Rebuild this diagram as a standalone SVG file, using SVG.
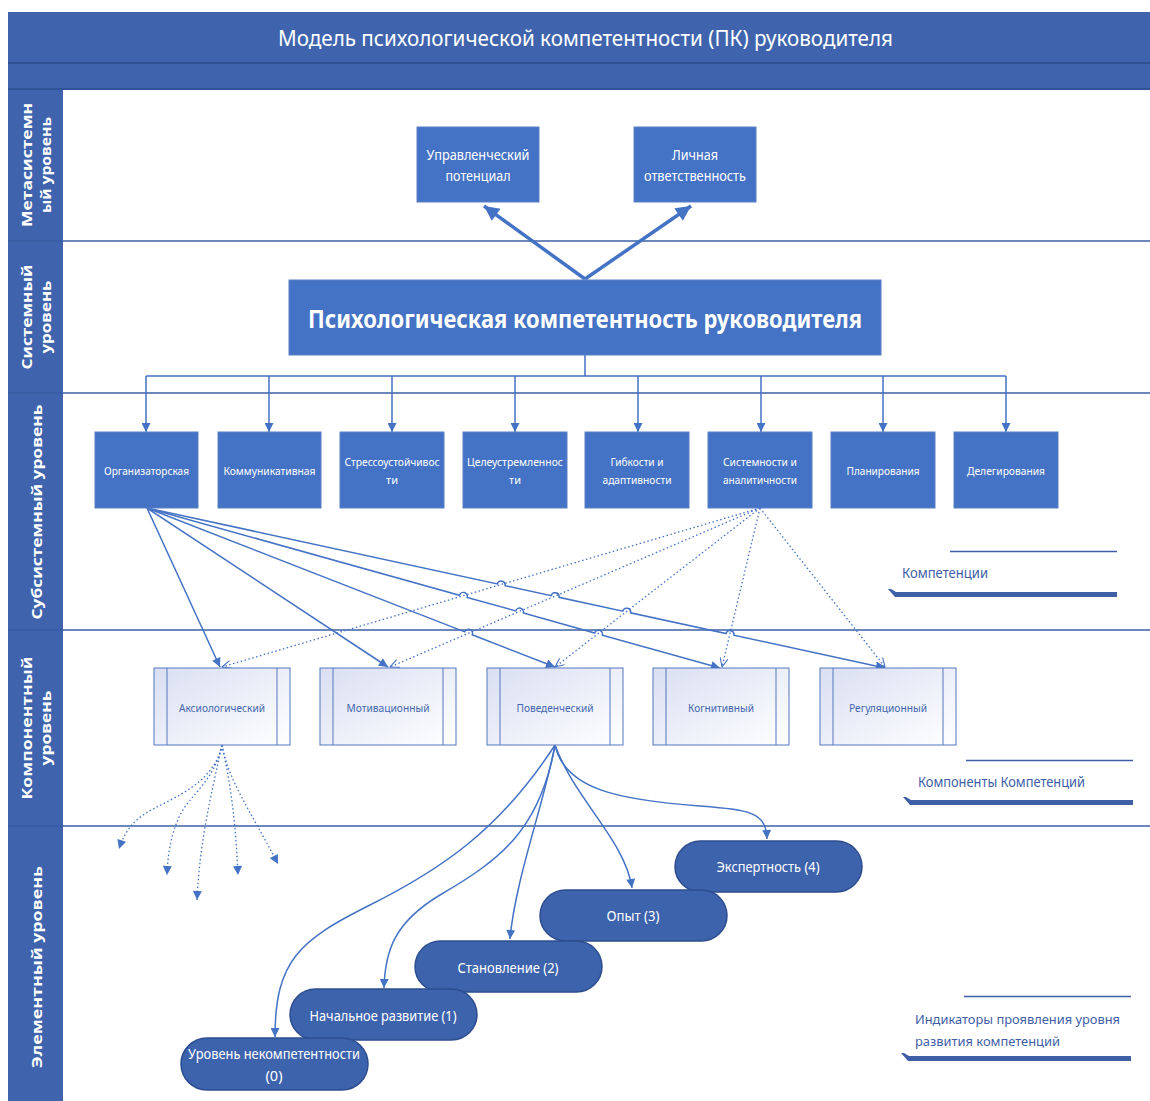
<svg xmlns="http://www.w3.org/2000/svg" width="1150" height="1101" viewBox="0 0 1150 1101">
<defs>
<style>
.lane{fill:#3f64ad}
.div{stroke:#3c5ea6;stroke-width:1.6}
.box{fill:#4472c4;stroke:#5b80c8;stroke-width:1}
.wt{fill:#fff;font-family:"Noto Sans","Open Sans",sans-serif;text-anchor:middle}
.lt{fill:#fff;font-family:"Open Sans","Noto Sans",sans-serif;font-weight:700;font-size:15px;text-anchor:middle}
.comp{fill:url(#cg);stroke:#5577c0;stroke-width:1}
.cl{stroke:#5577c0;stroke-width:1}
.ct{fill:#4466ae;font-family:"Noto Sans",sans-serif;font-size:11px;text-anchor:middle}
.el{fill:#3e63ad;stroke:#2d4d8f;stroke-width:1.5}
.ann{fill:#3e5ea6;font-family:"Noto Sans",sans-serif}
.ln{fill:none;stroke:#4472c4;stroke-width:1.5}
.thick{fill:none;stroke:#4472c4;stroke-width:3.5}
.dot{fill:none;stroke:#4472c4;stroke-width:1.3;stroke-dasharray:1.5 2.5}
.bar{fill:#3e5ea6}
.tl{stroke:#3e5ea6;stroke-width:1.3}
</style>
<linearGradient id="cg" x1="0" y1="0" x2="1" y2="1">
<stop offset="0" stop-color="#d9dff2"/>
<stop offset="1" stop-color="#ffffff"/>
</linearGradient>
<marker id="arr" viewBox="0 0 10 10" refX="10" refY="5" markerWidth="11" markerHeight="9" orient="auto" markerUnits="userSpaceOnUse">
<path d="M0,0 L10,5 L0,10 z" fill="#4472c4"/>
</marker>
<marker id="arrB" viewBox="0 0 10 10" refX="10" refY="5" markerWidth="16" markerHeight="15" orient="auto" markerUnits="userSpaceOnUse">
<path d="M0,0 L10,5 L0,10 z" fill="#4472c4"/>
</marker>
<marker id="arrO" viewBox="0 0 10 10" refX="10" refY="5" markerWidth="10" markerHeight="9" orient="auto" markerUnits="userSpaceOnUse">
<path d="M0,0.5 L10,5 L0,9.5" fill="none" stroke="#4472c4" stroke-width="1.2"/>
</marker>
</defs>

<!-- header -->
<g id="header">
<rect x="8" y="12" width="1142" height="78" class="lane"/>
<line x1="8" y1="63" x2="1150" y2="63" stroke="#2e4f92" stroke-width="2"/>
<line x1="8" y1="89" x2="1150" y2="89" stroke="#2e4f92" stroke-width="1.5"/>
<text x="585.5" y="46" class="wt" font-size="22" textLength="615" lengthAdjust="spacingAndGlyphs">Модель психологической компетентности (ПК) руководителя</text>
</g>

<!-- lanes -->
<g id="lanes">
<rect x="8" y="90" width="55" height="1011" class="lane"/>
<line x1="8" y1="241" x2="63" y2="241" stroke="#36589c" stroke-width="1"/>
<line x1="8" y1="393" x2="63" y2="393" stroke="#36589c" stroke-width="1"/>
<line x1="8" y1="630" x2="63" y2="630" stroke="#36589c" stroke-width="1"/>
<line x1="8" y1="826" x2="63" y2="826" stroke="#36589c" stroke-width="1"/>
<line x1="63" y1="241" x2="1150" y2="241" class="div"/>
<line x1="63" y1="393" x2="1150" y2="393" class="div"/>
<line x1="63" y1="630" x2="1150" y2="630" class="div"/>
<line x1="63" y1="826" x2="1150" y2="826" class="div"/>
<g id="lane-meta">
<text transform="translate(32,165) rotate(-90)" class="lt" textLength="124" lengthAdjust="spacingAndGlyphs">Метасистемн</text>
<text transform="translate(51,165) rotate(-90)" class="lt" textLength="96" lengthAdjust="spacingAndGlyphs">ый уровень</text>
</g>
<g id="lane-system">
<text transform="translate(32,317) rotate(-90)" class="lt" textLength="105" lengthAdjust="spacingAndGlyphs">Системный</text>
<text transform="translate(51,317) rotate(-90)" class="lt" textLength="73" lengthAdjust="spacingAndGlyphs">уровень</text>
</g>
<g id="lane-subsystem">
<text transform="translate(42,512) rotate(-90)" class="lt" textLength="215" lengthAdjust="spacingAndGlyphs">Субсистемный уровень</text>
</g>
<g id="lane-component">
<text transform="translate(32,728) rotate(-90)" class="lt" textLength="143" lengthAdjust="spacingAndGlyphs">Компонентный</text>
<text transform="translate(51,728) rotate(-90)" class="lt" textLength="75" lengthAdjust="spacingAndGlyphs">уровень</text>
</g>
<g id="lane-element">
<text transform="translate(42,967) rotate(-90)" class="lt" textLength="202" lengthAdjust="spacingAndGlyphs">Элементный уровень</text>
</g>
</g>

<!-- connectors -->
<g id="connectors">
<path d="M585,279 L484,206" class="thick" marker-end="url(#arrB)"/>
<path d="M585,279 L691,206" class="thick" marker-end="url(#arrB)"/>
<path d="M585,355 V376 M146,376 H1006" class="ln"/>
<path d="M146,376 V432" class="ln" marker-end="url(#arr)"/>
<path d="M269,376 V432" class="ln" marker-end="url(#arr)"/>
<path d="M392,376 V432" class="ln" marker-end="url(#arr)"/>
<path d="M515,376 V432" class="ln" marker-end="url(#arr)"/>
<path d="M638,376 V432" class="ln" marker-end="url(#arr)"/>
<path d="M761,376 V432" class="ln" marker-end="url(#arr)"/>
<path d="M883,376 V432" class="ln" marker-end="url(#arr)"/>
<path d="M1006,376 V432" class="ln" marker-end="url(#arr)"/>

<path d="M760,508 L222,667" class="dot" marker-end="url(#arrO)"/>
<path d="M760,508 L390,667" class="dot" marker-end="url(#arrO)"/>
<path d="M760,508 L555,667" class="dot" marker-end="url(#arrO)"/>
<path d="M760,508 L722,667" class="dot" marker-end="url(#arrO)"/>
<path d="M760,508 L885,667" class="dot" marker-end="url(#arrO)"/>

<path d="M147,508 L220,667" class="ln" marker-end="url(#arr)"/>
<path d="M147,508 L388,667" class="ln" marker-end="url(#arr)"/>
<path d="M147,508 L464.77,631.85 A4,4 0 0 1 472.23,634.75 L555,667" class="ln" marker-end="url(#arr)"/>
<path d="M147,508 L459.45,595.22 A4,4 0 0 1 467.15,597.38 L515.65,610.92 A4,4 0 0 1 523.35,613.08 L594.65,633.02 A4,4 0 0 1 602.35,635.18 L720,668" class="ln" marker-end="url(#arr)"/>
<path d="M147,508 L497.3,583.95 A4,4 0 0 1 505.1,585.65 L551.2,595.65 A4,4 0 0 1 559,597.35 L622.8,611.15 A4,4 0 0 1 630.6,612.85 L726.1,633.55 A4,4 0 0 1 733.9,635.25 L885,668" class="ln" marker-end="url(#arr)"/>

<path d="M222,745 C215,780 180,795 155,808 C135,818 125,830 119,849" class="dot" marker-end="url(#arr)"/>
<path d="M222,745 C215,780 190,795 180,815 C172,832 168,850 167,875" class="dot" marker-end="url(#arr)"/>
<path d="M222,745 C210,800 200,840 197,900" class="dot" marker-end="url(#arr)"/>
<path d="M222,745 C232,790 236,830 238,875" class="dot" marker-end="url(#arr)"/>
<path d="M222,745 C228,780 250,810 278,864" class="dot" marker-end="url(#arr)"/>

<path d="M555,745 C565,790 620,800 700,806 C750,810 766,812 767,839" class="ln" marker-end="url(#arr)"/>
<path d="M555,745 C575,800 625,840 632,888" class="ln" marker-end="url(#arr)"/>
<path d="M555,745 C545,800 515,880 510,939" class="ln" marker-end="url(#arr)"/>
<path d="M555,745 C540,830 500,860 440,895 C395,922 385,950 384,988" class="ln" marker-end="url(#arr)"/>
<path d="M555,745 C500,830 440,870 370,905 C300,940 275,960 275,1037" class="ln" marker-end="url(#arr)"/>
</g>

<!-- meta level -->
<g id="node-upr">
<rect x="417" y="127" width="122" height="75" class="box"/>
<text x="478" y="160" class="wt" font-size="14" textLength="103" lengthAdjust="spacingAndGlyphs">Управленческий</text>
<text x="478" y="181" class="wt" font-size="14" textLength="65" lengthAdjust="spacingAndGlyphs">потенциал</text>
</g>
<g id="node-otv">
<rect x="634" y="127" width="122" height="75" class="box"/>
<text x="695" y="160" class="wt" font-size="14" textLength="46" lengthAdjust="spacingAndGlyphs">Личная</text>
<text x="695" y="181" class="wt" font-size="14" textLength="102" lengthAdjust="spacingAndGlyphs">ответственность</text>
</g>

<!-- system level -->
<g id="node-pk">
<rect x="289" y="280" width="592" height="75" class="box"/>
<text x="585" y="328" class="wt" font-size="25" font-weight="700" textLength="554" lengthAdjust="spacingAndGlyphs">Психологическая компетентность руководителя</text>
</g>

<!-- subsystem level -->
<g id="node-org">
<rect x="95" y="432" width="103" height="76" class="box"/>
<text x="146.5" y="475" class="wt" font-size="11" textLength="85" lengthAdjust="spacingAndGlyphs">Организаторская</text>
</g>
<g id="node-kom">
<rect x="218" y="432" width="103" height="76" class="box"/>
<text x="269.5" y="475" class="wt" font-size="11" textLength="92" lengthAdjust="spacingAndGlyphs">Коммуникативная</text>
</g>
<g id="node-str">
<rect x="340" y="432" width="104" height="76" class="box"/>
<text x="392" y="466" class="wt" font-size="11" textLength="95" lengthAdjust="spacingAndGlyphs">Стрессоустойчивос</text>
<text x="392" y="484" class="wt" font-size="11">ти</text>
</g>
<g id="node-cel">
<rect x="463" y="432" width="104" height="76" class="box"/>
<text x="515" y="466" class="wt" font-size="11" textLength="96" lengthAdjust="spacingAndGlyphs">Целеустремленнос</text>
<text x="515" y="484" class="wt" font-size="11">ти</text>
</g>
<g id="node-gib">
<rect x="585" y="432" width="104" height="76" class="box"/>
<text x="637" y="466" class="wt" font-size="11" textLength="53" lengthAdjust="spacingAndGlyphs">Гибкости и</text>
<text x="637" y="484" class="wt" font-size="11" textLength="69" lengthAdjust="spacingAndGlyphs">адаптивности</text>
</g>
<g id="node-sys">
<rect x="708" y="432" width="104" height="76" class="box"/>
<text x="760" y="466" class="wt" font-size="11" textLength="74" lengthAdjust="spacingAndGlyphs">Системности и</text>
<text x="760" y="484" class="wt" font-size="11" textLength="74" lengthAdjust="spacingAndGlyphs">аналитичности</text>
</g>
<g id="node-plan">
<rect x="831" y="432" width="104" height="76" class="box"/>
<text x="883" y="475" class="wt" font-size="11" textLength="73" lengthAdjust="spacingAndGlyphs">Планирования</text>
</g>
<g id="node-del">
<rect x="954" y="432" width="104" height="76" class="box"/>
<text x="1006" y="475" class="wt" font-size="11" textLength="78" lengthAdjust="spacingAndGlyphs">Делегирования</text>
</g>

<!-- component level -->
<g id="node-aks">
<rect x="154" y="668" width="136" height="77" class="comp"/>
<line x1="167" y1="668" x2="167" y2="745" class="cl"/><line x1="277" y1="668" x2="277" y2="745" class="cl"/>
<text x="222" y="712" class="ct" textLength="86" lengthAdjust="spacingAndGlyphs">Аксиологический</text>
</g>
<g id="node-mot">
<rect x="320" y="668" width="136" height="77" class="comp"/>
<line x1="333" y1="668" x2="333" y2="745" class="cl"/><line x1="443" y1="668" x2="443" y2="745" class="cl"/>
<text x="388" y="712" class="ct" textLength="83" lengthAdjust="spacingAndGlyphs">Мотивационный</text>
</g>
<g id="node-pov">
<rect x="487" y="668" width="136" height="77" class="comp"/>
<line x1="500" y1="668" x2="500" y2="745" class="cl"/><line x1="610" y1="668" x2="610" y2="745" class="cl"/>
<text x="555" y="712" class="ct" textLength="77" lengthAdjust="spacingAndGlyphs">Поведенческий</text>
</g>
<g id="node-kog">
<rect x="653" y="668" width="136" height="77" class="comp"/>
<line x1="666" y1="668" x2="666" y2="745" class="cl"/><line x1="776" y1="668" x2="776" y2="745" class="cl"/>
<text x="721" y="712" class="ct" textLength="66" lengthAdjust="spacingAndGlyphs">Когнитивный</text>
</g>
<g id="node-reg">
<rect x="820" y="668" width="136" height="77" class="comp"/>
<line x1="833" y1="668" x2="833" y2="745" class="cl"/><line x1="943" y1="668" x2="943" y2="745" class="cl"/>
<text x="888" y="712" class="ct" textLength="78" lengthAdjust="spacingAndGlyphs">Регуляционный</text>
</g>

<!-- element level -->
<g id="node-exp">
<rect x="675" y="841" width="187" height="51" rx="25.5" class="el"/>
<text x="768" y="872" class="wt" font-size="15" textLength="103" lengthAdjust="spacingAndGlyphs">Экспертность (4)</text>
</g>
<g id="node-opyt">
<rect x="540" y="890" width="187" height="51" rx="25.5" class="el"/>
<text x="633" y="921" class="wt" font-size="15" textLength="53" lengthAdjust="spacingAndGlyphs">Опыт (3)</text>
</g>
<g id="node-stan">
<rect x="415" y="941" width="187" height="51" rx="25.5" class="el"/>
<text x="508" y="973" class="wt" font-size="15" textLength="101" lengthAdjust="spacingAndGlyphs">Становление (2)</text>
</g>
<g id="node-nach">
<rect x="290" y="989" width="187" height="51" rx="25.5" class="el"/>
<text x="383" y="1021" class="wt" font-size="15" textLength="147" lengthAdjust="spacingAndGlyphs">Начальное развитие (1)</text>
</g>
<g id="node-ur0">
<rect x="181" y="1038" width="187" height="52" rx="26" class="el"/>
<text x="274" y="1059" class="wt" font-size="15" textLength="172" lengthAdjust="spacingAndGlyphs">Уровень некомпетентности</text>
<text x="274" y="1081" class="wt" font-size="15" textLength="17" lengthAdjust="spacingAndGlyphs">(0)</text>
</g>

<!-- annotations -->
<g id="ann-komp">
<line x1="950" y1="551.5" x2="1117" y2="551.5" class="tl"/>
<text x="902" y="578" class="ann" font-size="14" textLength="86" lengthAdjust="spacingAndGlyphs">Компетенции</text>
<polygon points="888,589 891,589 896,592 1117,592 1117,597 895,597" class="bar"/>
</g>
<g id="ann-components">
<line x1="966" y1="760.5" x2="1133" y2="760.5" class="tl"/>
<text x="918" y="787" class="ann" font-size="14" textLength="167" lengthAdjust="spacingAndGlyphs">Компоненты Компетенций</text>
<polygon points="903,797 906,797 911,800 1133,800 1133,805 910,805" class="bar"/>
</g>
<g id="ann-ind">
<line x1="964" y1="996.5" x2="1131" y2="996.5" class="tl"/>
<text x="915" y="1024" class="ann" font-size="13" textLength="205" lengthAdjust="spacingAndGlyphs">Индикаторы проявления уровня</text>
<text x="915" y="1046" class="ann" font-size="13" textLength="145" lengthAdjust="spacingAndGlyphs">развития компетенций</text>
<polygon points="901,1053 904,1053 909,1056 1131,1056 1131,1061 908,1061" class="bar"/>
</g>
</svg>
